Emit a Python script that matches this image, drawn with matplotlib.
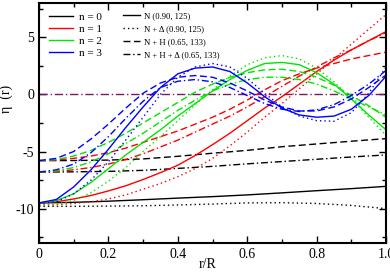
import numpy as np
import matplotlib
matplotlib.use("Agg")
import matplotlib.pyplot as plt
from matplotlib.lines import Line2D
from matplotlib.ticker import MultipleLocator, FuncFormatter

plt.rcParams['font.family'] = ['Liberation Serif', 'DejaVu Serif']

# radial grid (r/R)
r_coarse = np.linspace(0, 1, 11)
r_fine = np.linspace(0, 1, 21)

# n = 0 (black), on r_coarse
n0_N = [-9.5, -9.45, -9.35, -9.22, -9.08, -8.95, -8.8, -8.62, -8.43, -8.25, -8.05]
n0_ND = [-9.8, -9.8, -9.78, -9.75, -9.68, -9.6, -9.5, -9.48, -9.55, -9.72, -10.0]
n0_NH = [-5.8, -5.79, -5.75, -5.65, -5.42, -5.15, -4.9, -4.58, -4.34, -4.1, -3.87]
n0_NHD = [-6.8, -6.78, -6.74, -6.65, -6.48, -6.3, -6.08, -5.88, -5.68, -5.48, -5.3]

# n = 1 (red), on r_fine
n1_N = [-9.5, -9.4, -9.15, -8.85, -8.45, -8.0, -7.45, -6.85, -6.2, -5.35, -4.4,
        -3.4, -2.3, -1.2, -0.2, 0.9, 2.0, 3.0, 3.9, 4.7, 5.5]
n1_ND = [-9.7, -9.65, -9.55, -9.4, -9.15, -8.8, -8.3, -7.8, -7.2, -6.5, -5.6,
         -4.5, -3.3, -2.0, -0.8, 0.5, 1.8, 3.1, 4.4, 5.7, 7.0]
n1_NH = [-5.8, -5.75, -5.6, -5.4, -5.1, -4.7, -4.2, -3.7, -3.2, -2.6, -2.0,
         -1.3, -0.5, 0.4, 1.2, 1.8, 2.3, 2.7, 3.1, 3.4, 3.7]
n1_NHD = [-6.8, -6.75, -6.6, -6.4, -6.1, -5.7, -5.2, -4.6, -4.0, -3.3, -2.6,
          -1.9, -1.1, -0.2, 0.7, 1.6, 2.4, 3.2, 3.9, 4.7, 5.4]

# n = 2 (green)
n2_N = [-9.5, -9.3, -8.7, -7.7, -6.5, -5.3, -4.2, -3.1, -1.9, -0.8, 0.3,
        1.3, 2.1, 2.7, 2.8, 2.6, 1.9, 0.9, -0.4, -1.8, -3.1]
n2_ND = [-9.65, -9.6, -9.3, -8.6, -7.6, -6.4, -5.0, -3.7, -2.3, -0.9, 0.4,
         1.6, 2.6, 3.2, 3.4, 3.1, 2.3, 1.1, -0.4, -2.0, -3.6]
n2_NH = [-5.8, -5.7, -5.4, -4.9, -4.2, -3.4, -2.5, -1.6, -0.7, 0.2, 0.9,
         1.5, 1.9, 2.15, 2.2, 2.0, 1.5, 0.8, -0.1, -1.0, -2.0]
n2_NHD = [-6.8, -6.7, -6.4, -5.9, -5.2, -4.3, -3.4, -2.4, -1.4, -0.5, 0.3,
          0.9, 1.3, 1.5, 1.5, 1.3, 0.9, 0.3, -0.4, -1.1, -1.8]

# n = 3 (blue)
n3_N = [-9.5, -9.2, -8.1, -6.6, -4.8, -2.9, -1.1, 0.6, 1.8, 2.3, 2.4,
        2.0, 1.0, -0.2, -1.2, -1.8, -2.0, -1.9, -1.3, -0.1, 1.6]
n3_ND = [-9.55, -9.4, -8.7, -7.5, -5.9, -4.0, -2.0, 0.0, 1.5, 2.4, 2.7,
         2.4, 1.4, 0.1, -1.1, -1.9, -2.3, -2.35, -1.6, 0.1, 2.4]
n3_NH = [-5.8, -5.6, -5.0, -3.9, -2.6, -1.2, 0.1, 1.0, 1.5, 1.65, 1.5,
         1.0, 0.3, -0.5, -1.1, -1.45, -1.45, -1.1, -0.4, 0.6, 1.7]
n3_NHD = [-6.8, -6.6, -6.1, -5.1, -3.7, -2.1, -0.6, 0.6, 1.15, 1.3, 1.1,
          0.6, -0.1, -0.8, -1.3, -1.5, -1.35, -0.9, -0.1, 0.9, 2.1]

n_labels = ['n = 0', 'n = 1', 'n = 2', 'n = 3']
n_colors = ['black', '#ff0000', '#00e600', '#0000ff']
model_labels = [u'N (0.90, 125)', u'N + \u0394 (0.90, 125)',
                u'N + H (0.65, 133)', u'N + H + \u0394 (0.65, 133)']

styles = ['-', (0, (1, 2.2)), (0, (5, 2.5)), (0, (5, 2, 1, 2))]
lw = 1.0

fig = plt.figure(figsize=(3.9, 2.72), dpi=100)
ax = fig.add_axes([0.1, 0.107, 0.89, 0.882])

ax.axhline(0, color='#7a1a5c', lw=1.0, ls=(0, (6, 2, 1, 2)))

curves = [
    (r_coarse, [n0_N, n0_ND, n0_NH, n0_NHD]),
    (r_fine, [n1_N, n1_ND, n1_NH, n1_NHD]),
    (r_fine, [n2_N, n2_ND, n2_NH, n2_NHD]),
    (r_fine, [n3_N, n3_ND, n3_NH, n3_NHD]),
]
for (rr, group), col in zip(curves, n_colors):
    for ys, st in zip(group, styles):
        ax.plot(rr, ys, color=col, lw=lw, ls=st)

ax.set_xlim(0, 1)
ax.set_ylim(-13, 8)
ax.xaxis.set_major_locator(MultipleLocator(0.2))
ax.xaxis.set_minor_locator(MultipleLocator(0.1))
ax.yaxis.set_major_locator(MultipleLocator(5))
ax.yaxis.set_minor_locator(MultipleLocator(2.5))
ax.tick_params(which='both', direction='in', top=True, right=True,
               labelsize=10, width=1.0)
ax.tick_params(which='major', length=5)
ax.tick_params(which='minor', length=3)
ax.xaxis.set_major_formatter(FuncFormatter(
    lambda v, p: '0' if v == 0 else ('1' if v == 1 else '%.1f' % v)))
ax.yaxis.set_major_formatter(FuncFormatter(lambda v, p: '%d' % v))
for sp in ax.spines.values():
    sp.set_linewidth(1.5)

ax.set_xlabel('r/R', fontsize=10)
ax.xaxis.set_label_coords(0.485, -0.062)
ax.set_ylabel(u'\u03b7  (r)', fontsize=10)
ax.yaxis.set_label_coords(-0.075, 0.6)

h1 = [Line2D([], [], color=c, lw=1.0) for c in n_colors]
leg1 = ax.legend(h1, n_labels, loc='upper left', bbox_to_anchor=(0.015, 0.98),
                 frameon=False, fontsize=8, handlelength=2.2, handletextpad=0.5,
                 labelspacing=0.2, borderaxespad=0)
ax.add_artist(leg1)
h2 = [Line2D([], [], color='black', lw=1.0, ls=s) for s in styles]
ax.legend(h2, model_labels, loc='upper left', bbox_to_anchor=(0.232, 0.975),
          frameon=False, fontsize=6.2, handlelength=2.0, handletextpad=0.4,
          labelspacing=0.55, borderaxespad=0)

fig.savefig('out.png', dpi=100)
